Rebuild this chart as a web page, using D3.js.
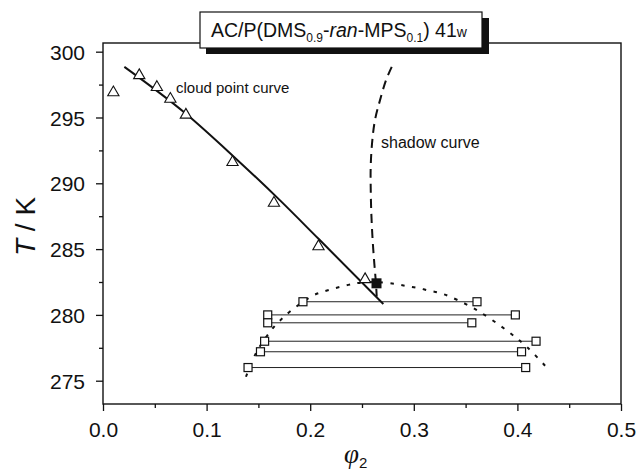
<!DOCTYPE html>
<html>
<head>
<meta charset="utf-8">
<script src="https://cdn.jsdelivr.net/npm/d3@7/dist/d3.min.js"></script>
<style>
  body { margin: 0; background: #fff; }
  svg { display: block; font-family: Arial, "Liberation Sans", sans-serif; }
</style>
</head>
<body>
<svg id="chart" width="637" height="474"></svg>
<script>
// cloud point measurements (triangles)
var cloudPhi = [0.010, 0.035, 0.052, 0.065, 0.080, 0.125, 0.165, 0.208, 0.253];
var cloudT   = [296.9, 298.2, 297.3, 296.4, 295.2, 291.6, 288.5, 285.2, 282.7];

// cloud point curve (solid)
var cpLinePhi = [0.0206, 0.0798, 0.1252, 0.1709, 0.2078, 0.2706];
var cpLineT   = [298.85, 295.3, 292.1, 288.7, 285.8, 280.83];

// shadow curve (dashed), from top down
var shadowPhi = [0.2787, 0.2732, 0.2674, 0.2625, 0.2597, 0.2584, 0.2584, 0.259, 0.2603, 0.2619, 0.2635, 0.2642];
var shadowT   = [298.85, 297.84, 296.32, 294.79, 293.04, 291.24, 289.71, 287.71, 285.65, 283.9, 282.38, 281.4];

// coexistence curve (dotted)
var coexPhi = [0.138, 0.1477, 0.1612, 0.1708, 0.1815, 0.2024, 0.2136, 0.2249, 0.2368, 0.2464, 0.264, 0.2819, 0.2925, 0.3034, 0.315, 0.326, 0.3366, 0.36, 0.39, 0.41, 0.4295];
var coexT   = [275.3, 277.1, 278.72, 279.56, 280.32, 281.46, 281.79, 282.05, 282.28, 282.43, 282.5, 282.35, 282.2, 282.05, 281.84, 281.64, 281.33, 280.4, 278.8, 277.5, 275.9];

// tie lines (squares at both ends)
var tieT     = [281.0, 280.0, 279.4, 278.0, 277.2, 276.0];
var tieLeft  = [0.193, 0.159, 0.159, 0.156, 0.152, 0.140];
var tieRight = [0.361, 0.398, 0.356, 0.418, 0.404, 0.408];

// critical point
var critPhi = 0.264, critT = 282.4;

var xTicks = [0, 0.1, 0.2, 0.3, 0.4, 0.5];
var xMinor = [0.05, 0.15, 0.25, 0.35, 0.45];
var yTicks = [275, 280, 285, 290, 295, 300];
var yMinor = [277.5, 282.5, 287.5, 292.5, 297.5];

var svg = d3.select("#chart");
var pLeft = 103, pRight = 621, pTop = 43, pBottom = 404;

var x = d3.scaleLinear().domain([0, 0.5]).range([pLeft, pRight]);
var y = d3.scaleLinear().domain([273.23, 300.66]).range([pBottom, pTop]);

function zipPts(a, b){ return a.map(function(v, i){ return [v, b[i]]; }); }

var line = d3.line()
  .x(function(d){ return x(d[0]); })
  .y(function(d){ return y(d[1]); });

// axes
var xAxis = d3.axisBottom(x).tickValues(xTicks).tickSize(7).tickFormat(d3.format(".1f"));
var xAxisMinor = d3.axisBottom(x).tickValues(xMinor).tickSize(4).tickFormat("");
var yAxis = d3.axisLeft(y).tickValues(yTicks).tickSize(7).tickFormat(d3.format("d"));
var yAxisMinor = d3.axisLeft(y).tickValues(yMinor).tickSize(4).tickFormat("");

function styleAxis(g){
  g.select(".domain").remove();
  g.selectAll("line").attr("stroke", "#111").attr("stroke-width", 1.3);
  g.selectAll("text").attr("fill", "#111").style("font-size", "21px");
}

svg.append("g").attr("transform", "translate(0," + pBottom + ")").call(xAxis).call(styleAxis)
  .selectAll("text").attr("y", 18).attr("dy", "0.72em");
svg.append("g").attr("transform", "translate(0," + pBottom + ")").call(xAxisMinor).call(styleAxis);
svg.append("g").attr("transform", "translate(" + pLeft + ",0)").call(yAxis).call(styleAxis)
  .selectAll("text").attr("x", -18).attr("dy", "0.36em");
svg.append("g").attr("transform", "translate(" + pLeft + ",0)").call(yAxisMinor).call(styleAxis);

// frame
svg.append("rect")
  .attr("x", pLeft).attr("y", pTop)
  .attr("width", pRight - pLeft).attr("height", pBottom - pTop)
  .attr("fill", "none").attr("stroke", "#111").attr("stroke-width", 1.4);

// axis titles
var yt = svg.append("text")
  .attr("transform", "translate(35," + ((pTop + pBottom) / 2 + 3) + ") rotate(-90)")
  .attr("text-anchor", "middle")
  .style("font-size", "28px").attr("fill", "#111");
yt.append("tspan").style("font-style", "italic").text("T");
yt.append("tspan").text(" / K");

var xt = svg.append("text")
  .attr("x", 344).attr("y", 463)
  .attr("fill", "#111");
xt.append("tspan").style("font-family", "'Liberation Serif', serif").style("font-style", "italic")
  .style("font-size", "27px").text("φ");
xt.append("tspan").attr("dy", 5).style("font-size", "15px").text("2");

// tie lines
var ties = tieT.map(function(t, i){ return {t: t, l: tieLeft[i], r: tieRight[i]}; });
svg.append("g").selectAll("line").data(ties).enter().append("line")
  .attr("x1", function(d){ return x(d.l); })
  .attr("x2", function(d){ return x(d.r); })
  .attr("y1", function(d){ return y(d.t); })
  .attr("y2", function(d){ return y(d.t); })
  .attr("stroke", "#222").attr("stroke-width", 1);

// coexistence curve, dotted
svg.append("path")
  .datum(zipPts(coexPhi, coexT))
  .attr("d", line.curve(d3.curveCatmullRom))
  .attr("fill", "none").attr("stroke", "#111")
  .attr("stroke-width", 2).attr("stroke-dasharray", "3.5,7.5");

// shadow curve, dashed
svg.append("path")
  .datum(zipPts(shadowPhi, shadowT))
  .attr("d", line.curve(d3.curveCatmullRom))
  .attr("fill", "none").attr("stroke", "#111")
  .attr("stroke-width", 2).attr("stroke-dasharray", "9,6");

// cloud point curve, solid
svg.append("path")
  .datum(zipPts(cpLinePhi, cpLineT))
  .attr("d", line.curve(d3.curveMonotoneX))
  .attr("fill", "none").attr("stroke", "#111").attr("stroke-width", 2);

// squares at tie line ends
var sq = 8;
var ends = [];
ties.forEach(function(d){ ends.push([d.l, d.t]); ends.push([d.r, d.t]); });
svg.append("g").selectAll("rect").data(ends).enter().append("rect")
  .attr("x", function(d){ return x(d[0]) - sq / 2; })
  .attr("y", function(d){ return y(d[1]) - sq / 2; })
  .attr("width", sq).attr("height", sq)
  .attr("fill", "#fff").attr("stroke", "#111").attr("stroke-width", 1.2);

// triangles
var tri = d3.symbol().type(d3.symbolTriangle).size(55);
svg.append("g").selectAll("path").data(zipPts(cloudPhi, cloudT)).enter().append("path")
  .attr("d", tri)
  .attr("transform", function(d){ return "translate(" + x(d[0]) + "," + y(d[1]) + ")"; })
  .attr("fill", "#fff").attr("stroke", "#111").attr("stroke-width", 1.1);

// critical point
svg.append("rect")
  .attr("x", x(critPhi) - 5).attr("y", y(critT) - 5)
  .attr("width", 10).attr("height", 10)
  .attr("fill", "#111");

// curve labels
svg.append("text").attr("x", 176).attr("y", 93)
  .style("font-size", "15px").attr("fill", "#111").text("cloud point curve");
svg.append("text").attr("x", 381).attr("y", 148)
  .style("font-size", "16px").attr("fill", "#111").text("shadow curve");

// title box with shadow
svg.append("rect").attr("x", 206).attr("y", 18).attr("width", 283).attr("height", 36).attr("fill", "#111");
svg.append("rect").attr("x", 200).attr("y", 12).attr("width", 282).attr("height", 36)
  .attr("fill", "#fff").attr("stroke", "#111").attr("stroke-width", 1.2);

var title = svg.append("text").attr("x", 211).attr("y", 37)
  .style("font-size", "19.5px").attr("fill", "#111");
title.append("tspan").text("AC/P(DMS");
title.append("tspan").attr("dy", 5).style("font-size", "12px").text("0.9");
title.append("tspan").attr("dy", -5).text("-");
title.append("tspan").style("font-style", "italic").text("ran");
title.append("tspan").text("-MPS");
title.append("tspan").attr("dy", 5).style("font-size", "12px").text("0.1");
title.append("tspan").attr("dy", -5).text(") 41");
title.append("tspan").style("font-size", "14px").text("w");
</script>
</body>
</html>
